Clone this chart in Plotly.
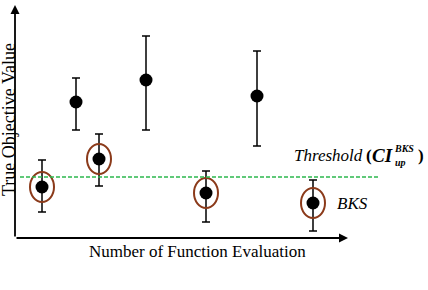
import plotly.graph_objects as go

# Data (arbitrary objective units)
x_pos = [27, 61, 84, 131, 191, 242, 298]
y_val = [51, 136, 79, 158, 45, 142, 35]
y_top = [78, 160, 104, 202, 67, 187, 58]
y_bot = [26, 108, 52, 108, 16, 92, 7]
bks_flag = [1, 0, 1, 0, 1, 0, 1]
threshold = 61

err_up = [t - v for t, v in zip(y_top, y_val)]
err_dn = [v - b for v, b in zip(y_val, y_bot)]

FONT = "Liberation Serif"

fig = go.Figure()
fig.add_trace(go.Scatter(
    x=x_pos, y=y_val, mode="markers",
    marker=dict(color="black", size=13),
    error_y=dict(type="data", array=err_up, arrayminus=err_dn,
                 color="black", thickness=1.5, width=4, visible=True),
    showlegend=False, hoverinfo="skip"))

shapes = []
# ellipses around BKS points
for xv, yv, f in zip(x_pos, y_val, bks_flag):
    if f:
        shapes.append(dict(type="circle", xref="x", yref="y",
                           x0=xv - 12, x1=xv + 12, y0=yv - 15, y1=yv + 15,
                           line=dict(color="#8B3A1A", width=2)))
# threshold line
shapes.append(dict(type="line", xref="paper", yref="y",
                   x0=5 / 333, x1=365 / 333, y0=threshold, y1=threshold,
                   line=dict(color="#2DB84D", width=1.5, dash="4px,2px")))


def px(xp):
    return (xp - 15) / 333


def py(yp):
    return (238 - yp) / 233


def txt(text, x, y, size, xanchor="left", angle=0):
    return dict(xref="paper", yref="paper", x=px(x), y=py(y), text=text,
                showarrow=False, textangle=angle, borderpad=0,
                font=dict(family=FONT, size=size, color="black"),
                xanchor=xanchor, yanchor="middle")


annotations = [
    # y axis arrow
    dict(xref="paper", yref="paper", x=0, y=1, ax=0, ay=233, axref="pixel", ayref="pixel",
         text="", showarrow=True, arrowhead=2, arrowsize=1, arrowwidth=1.8,
         arrowcolor="black", standoff=0, startstandoff=0),
    # x axis arrow
    dict(xref="paper", yref="paper", x=1, y=0, ax=-333, ay=0, axref="pixel", ayref="pixel",
         text="", showarrow=True, arrowhead=2, arrowsize=1, arrowwidth=1.8,
         arrowcolor="black", standoff=0, startstandoff=0),
    # axis titles
    txt("Number of Function Evaluation", 197, 251, 17, "center"),
    txt("True Objective Value", 9, 120, 18, "center", -90),
    # threshold label
    txt("<i>Threshold</i>", 364, 155, 17, "right"),
    txt("<b>(</b>", 365, 155, 17),
    txt("<b><i>CI</i></b>", 371, 155, 19),
    txt("<b><i>BKS</i></b>", 393, 148, 10),
    txt("<b><i>up</i></b>", 394, 162, 10),
    txt("<b>)</b>", 417, 155, 17),
    # BKS label
    txt("<i>BKS</i>", 336, 203, 17),
]

fig.update_layout(
    width=428, height=290,
    margin=dict(l=15, r=80, t=5, b=52),
    paper_bgcolor="white", plot_bgcolor="white",
    xaxis=dict(range=[0, 333], visible=False, fixedrange=True),
    yaxis=dict(range=[0, 233], visible=False, fixedrange=True),
    shapes=shapes, annotations=annotations,
)

fig.write_html("out.html", config={"displayModeBar": False},
               post_script="document.body.style.margin='0';document.body.style.padding='0';")
